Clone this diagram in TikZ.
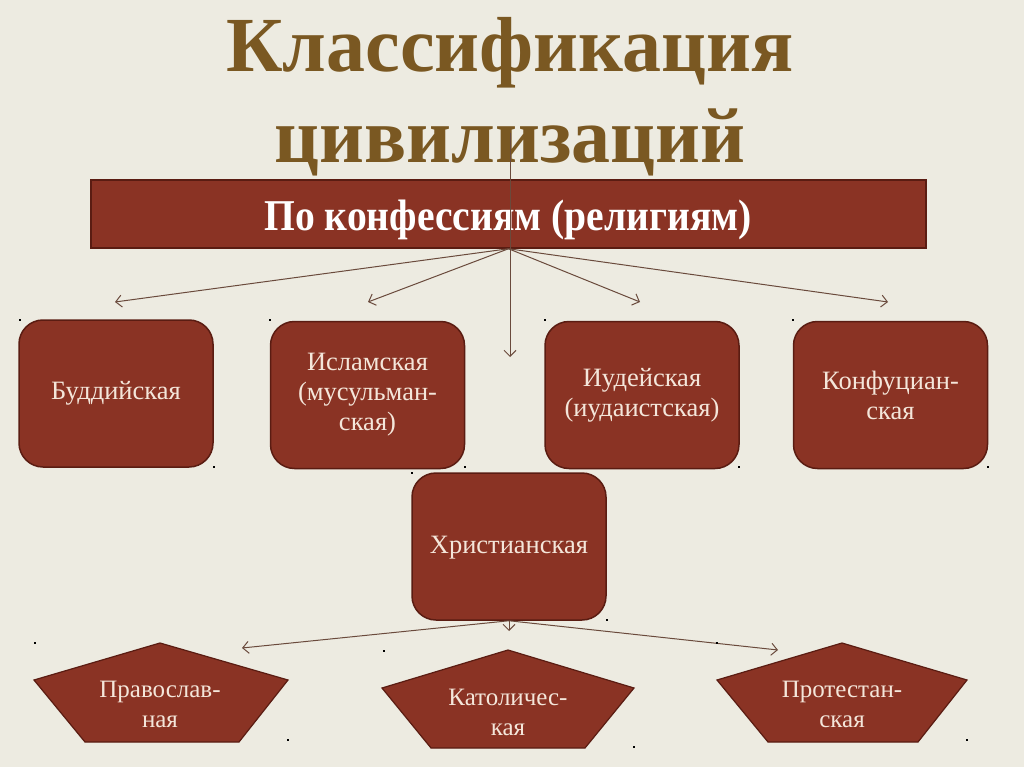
\documentclass[tikz,border=0pt]{standalone}
\usepackage{fontspec}
\setmainfont{Liberation Serif}
\usetikzlibrary{arrows.meta}
\definecolor{bg}{HTML}{EDEBE1}
\definecolor{boxfill}{HTML}{8A3324}
\definecolor{boxedge}{HTML}{5A1C12}
\definecolor{titlec}{HTML}{7A5822}
\definecolor{arrowc}{HTML}{6A4A3C}
\definecolor{boxtext}{HTML}{F4E6DA}
\begin{document}
\begin{tikzpicture}[x=1pt,y=-1pt,
 rbox/.style={draw=boxedge, line width=1.5pt, fill=boxfill, rounded corners=24pt, minimum width=194pt, minimum height=147pt, text=boxtext, align=center, font=\fontsize{26.5}{30}\selectfont, inner sep=0pt},
 pent/.style={draw=boxedge, line width=1.2pt, fill=boxfill},
 ptext/.style={text=boxtext, align=center, font=\fontsize{25}{30}\selectfont, inner sep=0pt},
 conn/.style={draw=arrowc, line width=1pt, -{Straight Barb[length=6pt,width=12pt]}},
 hdot/.style={fill=black, inner sep=0pt, minimum size=2.5pt},
 titlef/.style={font=\fontsize{78}{90}\bfseries\selectfont, text=titlec, anchor=base, inner sep=0pt}]
\useasboundingbox (0,0) rectangle (1024,767);
\fill[bg] (0,0) rectangle (1024,767);
% title
\node[titlef] (title1) at (510,72) {Классификация};
\node[titlef] (title2) at (510,163) {цивилизаций};
% bar
\node[draw=boxedge, line width=1.5pt, fill=boxfill, minimum width=835pt, minimum height=68pt, inner sep=0pt] (bar) at (508.5,214) {};
\node[text=white, font=\fontsize{44}{48}\bfseries\selectfont, anchor=base, inner sep=0pt, xscale=0.9] (bartext) at (508,230) {По конфессиям (религиям)};
% top row
\node[rbox] (buddh) at (116,393.5) {Буддийская};
\node[rbox] (islam) at (367.5,395) {Исламская\\(мусульман-\\ская)};
\node[rbox] (jud) at (642,395) {Иудейская\\(иудаистская)};
\node[rbox] (conf) at (890.5,395) {Конфуциан-\\ская};
\node[rbox] (christ) at (509,546.5) {};
\node[text=boxtext, font=\fontsize{26.5}{30}\selectfont, inner sep=0pt] (christtext) at (509,548) {Христианская};
% pentagons
\draw[pent] (160,643) -- (288,680) -- (239,742) -- (85,742) -- (34,680) -- cycle;
\draw[pent] (508,650) -- (634,688) -- (585,748) -- (431,748) -- (382,688) -- cycle;
\draw[pent] (842,643) -- (967,680) -- (918,742) -- (768,742) -- (717,680) -- cycle;
\node[ptext] (orth) at (160,704) {Православ-\\ная};
\node[ptext] (cath) at (508,712) {Католичес-\\кая};
\node[ptext] (prot) at (842,704) {Протестан-\\ская};
% arrow ends
\coordinate (e1) at (115,302);
\coordinate (e2) at (368,302);
\coordinate (e3) at (640,302);
\coordinate (e4) at (888,302);
\coordinate (vtop) at (510,133);
\coordinate (vtip) at (510,357);
\coordinate (c1) at (242,648);
\coordinate (c2) at (778,650);
\coordinate (c3) at (509,631);
\draw[conn] (bar.south) -- (e1);
\draw[conn] (bar.south) -- (e2);
\draw[conn] (bar.south) -- (e3);
\draw[conn] (bar.south) -- (e4);
\draw[conn] (vtop) -- (vtip);
\draw[conn] (christ.south) -- (c1);
\draw[conn] (christ.south) -- (c2);
\draw[conn] (christ.south) -- (c3);
% selection handle dots
\foreach \p in {(20,320),(214,467),(270,320),(465,467),(545,320),(739,467),(793,320),(988,467),(412,473),(607,620),(35,643),(288,740),(384,651),(634,747),(717,643),(967,740)}
  \node[hdot] at \p {};
\end{tikzpicture}
\end{document}
